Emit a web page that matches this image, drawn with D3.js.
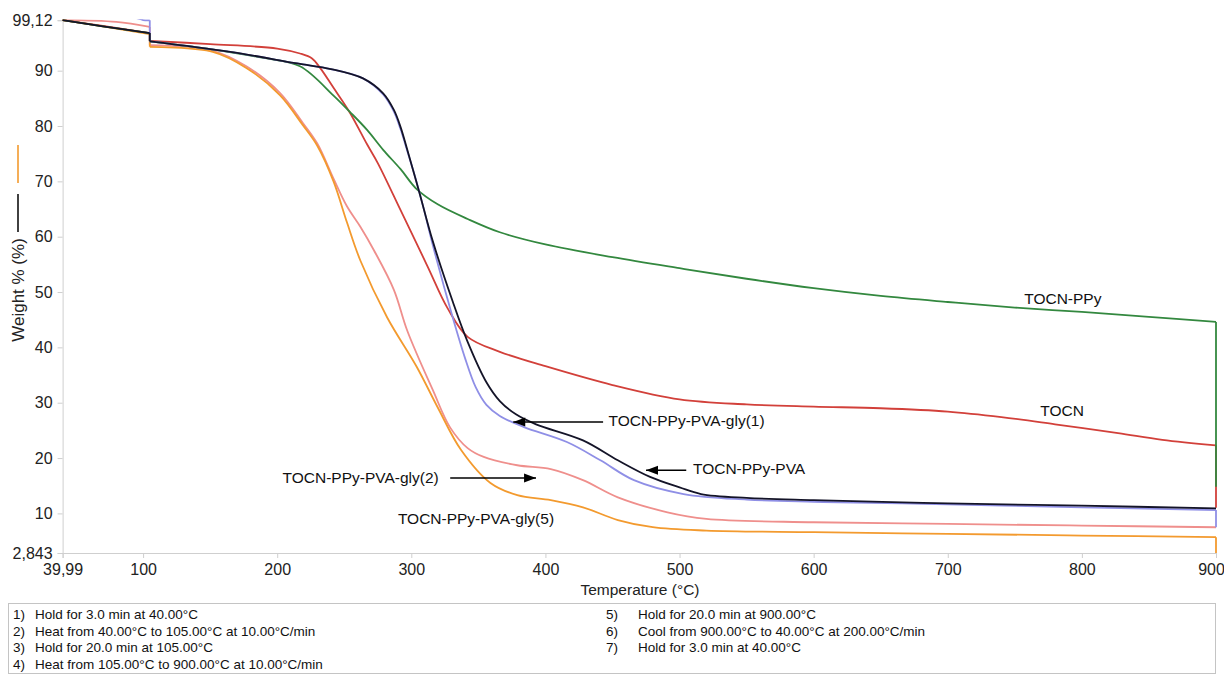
<!DOCTYPE html>
<html>
<head>
<meta charset="utf-8">
<script src="https://cdn.jsdelivr.net/npm/d3@7"></script>
<style>
    body { margin: 0; background: #fff; }
    svg { display: block; font-family: "Liberation Sans", Arial, sans-serif; }
</style>
</head>
<body>
<svg width="1224" height="676"></svg>
<script>
// data: [temperature °C, weight %]
const tocn = [
    [40, 99.12], [70, 98.1], [105, 96.8], [105, 95.4], [150, 94.8], [200, 94.0], [217, 93.1],
    [226, 92.2], [232, 90.5], [242, 86.9], [254, 82.5], [267, 76.7], [275, 73.3], [292, 64.8],
    [312, 54.7], [327, 47.1], [342, 41.9], [366, 39.2], [400, 36.6], [450, 33.2], [500, 30.6],
    [550, 29.7], [600, 29.3], [650, 29.0], [700, 28.4], [740, 27.4], [780, 26.1], [827, 24.5],
    [860, 23.3], [900, 22.3], [900, 11]
];
const tocnPpy = [
    [40, 99.12], [70, 98.0], [105, 96.8], [105, 95.3], [150, 93.9], [190, 92.3], [217, 90.8],
    [242, 85.5], [254, 82.6], [267, 79.3], [279, 75.7], [292, 72.2], [304, 68.6], [320, 65.8],
    [342, 63.2], [366, 60.8], [400, 58.6], [450, 56.3], [500, 54.3], [550, 52.4], [600, 50.7],
    [650, 49.3], [700, 48.2], [750, 47.2], [800, 46.4], [850, 45.5], [900, 44.6], [900, 14.8]
];
const tocnPpyPva = [
    [40, 99.12], [70, 98.0], [105, 96.8], [105, 95.3], [165, 93.4], [215, 91.3], [240, 90.3],
    [264, 88.6], [279, 85.9], [287, 82.9], [292, 79.8], [297, 75.7], [306, 68], [316, 59.2],
    [331, 48.2], [342, 41.0], [356, 33.7], [366, 30.3], [378, 27.9], [393, 26.1], [428, 23.2],
    [454, 19.6], [478, 16.6], [500, 14.7], [516, 13.5], [550, 12.8], [600, 12.4], [666, 12.0],
    [700, 11.8], [800, 11.4], [900, 10.9]
];
const gly1 = [
    [40, 99.9], [95, 99.5], [100, 99.15], [105, 99.1], [105, 95.3], [165, 93.4], [215, 91.3],
    [240, 90.3], [264, 88.6], [279, 85.7], [287, 82.6], [292, 79.4], [297, 75.5], [302, 71.5],
    [309, 65.3], [316, 58.5], [331, 45.3], [340, 38.1], [348, 32.8], [356, 29.6], [366, 27.6],
    [384, 25.6], [416, 22.9], [441, 19.6], [466, 16], [503, 13.5], [550, 12.5], [600, 12.1],
    [666, 11.8], [800, 11.1], [900, 10.6], [900, 7.5]
];
const gly2 = [
    [40, 99.12], [80, 98.8], [105, 97.9], [105, 94.6], [152, 93.6], [177, 90.8], [202, 86],
    [219, 80.6], [230, 76.8], [242, 70.5], [252, 65.5], [262, 61.8], [272, 57.6], [287, 50.4],
    [297, 43], [316, 32.3], [329, 25.5], [342, 21.8], [354, 20.2], [379, 18.7], [404, 18.0],
    [428, 16], [454, 12.9], [491, 10.2], [520, 9.0], [600, 8.4], [700, 8.1], [800, 7.8],
    [900, 7.5]
];
const gly5 = [
    [40, 99.12], [70, 98.0], [105, 96.6], [105, 94.3], [152, 93.4], [177, 90.5], [202, 85.6],
    [219, 80.2], [230, 76.4], [242, 70], [252, 62.6], [262, 55.7], [282, 45.4], [304, 36.5],
    [320, 29], [337, 21.5], [359, 15.5], [379, 13.3], [404, 12.4], [428, 11.1], [454, 8.8],
    [480, 7.5], [520, 6.9], [600, 6.6], [700, 6.3], [800, 6.0], [900, 5.7], [900, 2.843]
];

const seriesNames = ["TOCN-PPy-PVA-gly(2)", "TOCN-PPy-PVA-gly(5)", "TOCN", "TOCN-PPy",
    "TOCN-PPy-PVA-gly(1)", "TOCN-PPy-PVA"];
const seriesData = [gly2, gly5, tocn, tocnPpy, gly1, tocnPpyPva];
const seriesColors = ["#ef8f8c", "#f39a2e", "#d2403a", "#33883f", "#8f8fe6", "#141428"];

const xTicks = [39.99, 100, 200, 300, 400, 500, 600, 700, 800, 900];
const yTicks = [2.843, 10, 20, 30, 40, 50, 60, 70, 80, 90, 99.12];

// labels: [text, T, weight]
const labels = [
    ["TOCN-PPy", 757, 48.5],
    ["TOCN", 769, 28.3],
    ["TOCN-PPy-PVA-gly(1)", 447, 26.5],
    ["TOCN-PPy-PVA", 510, 17.8],
    ["TOCN-PPy-PVA-gly(2)", 204, 16.2],
    ["TOCN-PPy-PVA-gly(5)", 290, 8.8]
];
// arrows: [fromT, toT, weight]
const arrows = [
    [443, 376, 26.5],
    [505, 475, 17.8],
    [329, 393, 16.4]
];

const stepsLeft = [
    "Hold for 3.0 min at 40.00°C",
    "Heat from 40.00°C to 105.00°C at 10.00°C/min",
    "Hold for 20.0 min at 105.00°C",
    "Heat from 105.00°C to 900.00°C at 10.00°C/min"
];
const stepsRight = [
    "Hold for 20.0 min at 900.00°C",
    "Cool from 900.00°C to 40.00°C at 200.00°C/min",
    "Hold for 3.0 min at 40.00°C"
];


const svg = d3.select("svg");
const fmt = v => String(v).replace(".", ",");

const x = d3.scaleLinear().domain([39.99, 900]).range([62.6, 1216]);
const y = d3.scaleLinear().domain([2.843, 99.12]).range([553, 20.2]);

svg.append("defs").append("clipPath")
    .attr("id", "plot-clip")
    .append("rect")
    .attr("x", 60).attr("y", y(99.12) - 1)
    .attr("width", 1164).attr("height", y(2.843) - y(99.12) + 4);

svg.select("defs").append("marker")
    .attr("id", "arrowhead")
    .attr("viewBox", "0 -5 12 10")
    .attr("refX", 12)
    .attr("refY", 0)
    .attr("orient", "auto")
    .attr("markerUnits", "userSpaceOnUse")
    .attr("markerWidth", 14)
    .attr("markerHeight", 10)
    .append("path")
    .attr("d", "M 0,-4.5 L 12,0 L 0,4.5 Z")
    .attr("fill", "#000");

// axes
const xAxis = svg.append("g")
    .attr("transform", `translate(0,${y(2.843)})`)
    .call(d3.axisBottom(x).tickValues(xTicks).tickFormat(fmt).tickSize(5).tickPadding(6));
const yAxis = svg.append("g")
    .attr("transform", `translate(${x(39.99)},0)`)
    .call(d3.axisLeft(y).tickValues(yTicks).tickFormat(fmt).tickSize(5).tickPadding(5));

[xAxis, yAxis].forEach(a => {
    a.select(".domain").attr("stroke", "#cfcfcf");
    a.selectAll(".tick line").attr("stroke", "#cfcfcf");
    a.selectAll(".tick text")
        .attr("fill", "#222")
        .style("font-size", "16px")
        .style("font-family", "'Liberation Sans', Arial, sans-serif");
});
// keep the last label inside the picture
xAxis.selectAll(".tick text").filter(d => d === 900).attr("dx", -5);

// split at vertical steps (same temperature) so the curve stays clean
function splitSegments(pts) {
    const segs = [];
    let cur = [pts[0]];
    for (let i = 1; i < pts.length; i++) {
        if (pts[i][0] === pts[i - 1][0]) {
            if (cur.length > 1) segs.push(cur);
            segs.push([pts[i - 1], pts[i]]);
            cur = [pts[i]];
        } else {
            cur.push(pts[i]);
        }
    }
    if (cur.length > 1) segs.push(cur);
    return segs;
}

const line = d3.line()
    .x(d => x(d[0]))
    .y(d => y(d[1]))
    .curve(d3.curveCatmullRom.alpha(0.5));

const plot = svg.append("g").attr("clip-path", "url(#plot-clip)");

seriesData.forEach((pts, i) => {
    const g = plot.append("g").attr("class", "series").attr("data-name", seriesNames[i]);
    g.selectAll("path")
        .data(splitSegments(pts))
        .join("path")
        .attr("d", line)
        .attr("fill", "none")
        .attr("stroke", seriesColors[i])
        .attr("stroke-width", 1.8)
        .attr("stroke-linejoin", "round");
});

// labels and arrows
svg.append("g")
    .selectAll("text")
    .data(labels)
    .join("text")
    .attr("x", d => x(d[1]))
    .attr("y", d => y(d[2]))
    .attr("dominant-baseline", "middle")
    .attr("font-size", 15.5)
    .attr("fill", "#111")
    .text(d => d[0]);

svg.append("g")
    .selectAll("line")
    .data(arrows)
    .join("line")
    .attr("x1", d => x(d[0]))
    .attr("x2", d => x(d[1]))
    .attr("y1", d => y(d[2]))
    .attr("y2", d => y(d[2]))
    .attr("stroke", "#000")
    .attr("stroke-width", 1.5)
    .attr("marker-end", "url(#arrowhead)");

// axis titles
svg.append("text")
    .attr("x", 640)
    .attr("y", 595)
    .attr("text-anchor", "middle")
    .attr("font-size", 15.5)
    .attr("fill", "#222")
    .text("Temperature (°C)");

svg.append("text")
    .attr("transform", "translate(24,290) rotate(-90)")
    .attr("text-anchor", "middle")
    .attr("font-size", 17)
    .attr("fill", "#222")
    .text("Weight % (%)");

// little line keys beside the y title
svg.append("line")
    .attr("x1", 18).attr("x2", 18).attr("y1", 145).attr("y2", 183)
    .attr("stroke", seriesColors[1]).attr("stroke-width", 1.6);
svg.append("line")
    .attr("x1", 18).attr("x2", 18).attr("y1", 194).attr("y2", 232)
    .attr("stroke", "#111").attr("stroke-width", 1.6);

// method box
svg.append("rect")
    .attr("x", 8.5).attr("y", 603.5)
    .attr("width", 1207).attr("height", 70)
    .attr("fill", "none")
    .attr("stroke", "#c4c4c4");

function stepRows(steps, startNum, xNum, xText) {
    const g = svg.append("g").attr("font-size", 13.5).attr("fill", "#111");
    g.selectAll("text.num")
        .data(steps)
        .join("text")
        .attr("class", "num")
        .attr("x", xNum)
        .attr("y", (d, i) => 619 + i * 16.5)
        .text((d, i) => `${startNum + i})`);
    g.selectAll("text.step")
        .data(steps)
        .join("text")
        .attr("class", "step")
        .attr("x", xText)
        .attr("y", (d, i) => 619 + i * 16.5)
        .text(d => d);
}
stepRows(stepsLeft, 1, 13, 35);
stepRows(stepsRight, 5, 606, 638);
</script>
</body>
</html>
